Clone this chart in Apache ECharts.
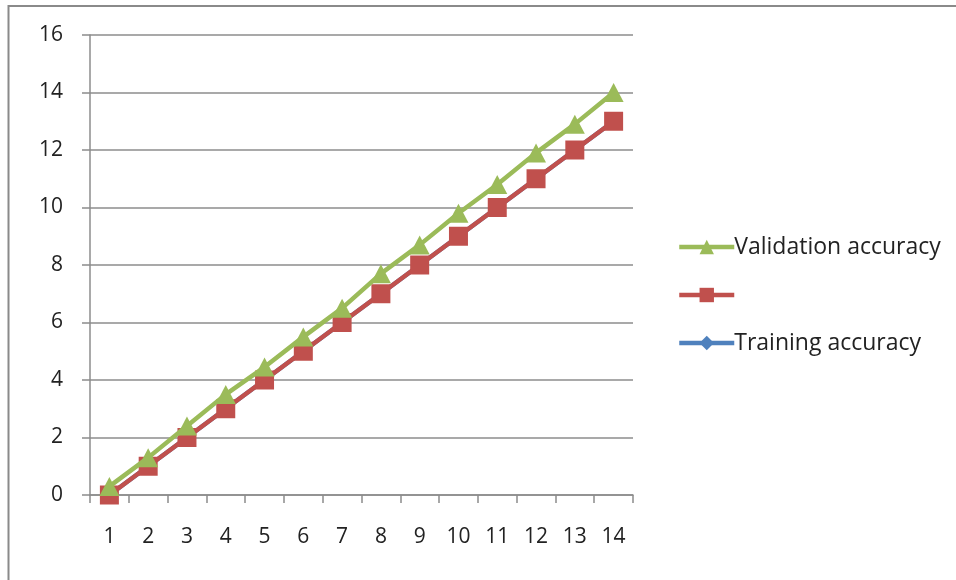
<!DOCTYPE html>
<html>
<head>
<meta charset="utf-8">
<script src="https://cdn.jsdelivr.net/npm/echarts@6/dist/echarts.min.js"></script>
<style>
  html, body { margin: 0; padding: 0; background: #fff; }
  #chart { width: 956px; height: 580px; }
</style>
</head>
<body>
<div id="chart"></div>
<script>
// Epoch categories along the x axis
const epochs = ['1','2','3','4','5','6','7','8','9','10','11','12','13','14'];
// Series values
const validationAccuracy = [0.3, 1.3, 2.4, 3.5, 4.45, 5.5, 6.5, 7.7, 8.7, 9.8, 10.8, 11.9, 12.9, 14];
const unnamedSeries = [0, 1, 2, 3, 4, 5, 6, 7, 8, 9, 10, 11, 12, 13];
const trainingAccuracy = [0, 1, 2, 3, 4, 5, 6, 7, 8, 9, 10, 11, 12, 13];
// Value axis range
const yMin = 0, yMax = 16, yStep = 2;

const FONT = '"Open Sans", Lato, sans-serif';
const GREEN = '#9BBB59', RED = '#C0504D', BLUE = '#4F81BD';
const AXIS_GRAY = '#8c8c8c';

const chart = echarts.init(document.getElementById('chart'), null, { renderer: 'canvas' });

chart.setOption({
  animation: false,
  backgroundColor: '#fff',
  textStyle: { fontFamily: FONT },
  grid: { left: 90, right: 323, top: 35, bottom: 85, containLabel: false },
  legend: {
    orient: 'vertical',
    left: 672,
    top: 227,
    itemWidth: 55,
    itemHeight: 18,
    itemGap: 18,
    data: ['Validation accuracy', ' ', 'Training accuracy'],
    lineStyle: { width: 4.5 },
    textStyle: { fontFamily: FONT, fontSize: 23, lineHeight: 30, color: '#222', padding: [0, 0, 0, -5] },
    selectedMode: false
  },
  xAxis: {
    type: 'category',
    data: epochs,
    boundaryGap: true,
    axisLine: { lineStyle: { color: AXIS_GRAY, width: 1.5 } },
    axisTick: { show: true, length: 8, alignWithLabel: false, lineStyle: { color: AXIS_GRAY, width: 1.5 } },
    axisLabel: { color: '#222', fontSize: 21, margin: 32, fontFamily: FONT },
    splitLine: { show: false }
  },
  yAxis: {
    type: 'value',
    min: yMin,
    max: yMax,
    interval: yStep,
    axisLine: { show: true, lineStyle: { color: AXIS_GRAY, width: 1.5 } },
    axisTick: { show: true, length: 8, lineStyle: { color: AXIS_GRAY, width: 1.5 } },
    axisLabel: { color: '#222', fontSize: 21, margin: 27, fontFamily: FONT },
    splitLine: { show: true, lineStyle: { color: AXIS_GRAY, width: 1.5 } }
  },
  series: [
    {
      name: 'Training accuracy',
      type: 'line',
      data: trainingAccuracy,
      z: 1,
      symbol: 'diamond',
      symbolSize: 15,
      lineStyle: { color: BLUE, width: 4.5 },
      itemStyle: { color: BLUE }
    },
    {
      name: ' ',
      type: 'line',
      data: unnamedSeries,
      z: 2,
      symbol: 'rect',
      symbolSize: 19,
      lineStyle: { color: RED, width: 4.5 },
      itemStyle: { color: RED }
    },
    {
      name: 'Validation accuracy',
      type: 'line',
      data: validationAccuracy,
      z: 3,
      symbol: 'triangle',
      symbolSize: [20, 19],
      lineStyle: { color: GREEN, width: 4.5 },
      itemStyle: { color: GREEN }
    }
  ],
  graphic: [
    { type: 'line', shape: { x1: 8, y1: 6, x2: 956, y2: 6 }, style: { stroke: '#8a8a8a', lineWidth: 2 } },
    { type: 'line', shape: { x1: 8.5, y1: 5, x2: 8.5, y2: 580 }, style: { stroke: '#8a8a8a', lineWidth: 2 } }
  ]
});
</script>
</body>
</html>
